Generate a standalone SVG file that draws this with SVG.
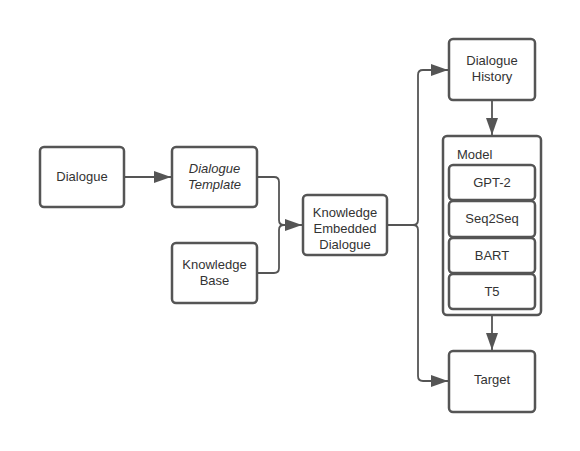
<svg xmlns="http://www.w3.org/2000/svg" width="580" height="451" viewBox="0 0 580 451">
<style>
.box{fill:#fff;stroke:#555;stroke-width:2.5}
.t{font-family:"Liberation Sans",Arial,sans-serif;font-size:13px;fill:#333;text-anchor:middle}
.c{fill:none;stroke:#555;stroke-width:1.8;stroke-linejoin:round}
</style>
<defs>
<marker id="ah" viewBox="0 0 17 12" refX="17" refY="6" markerWidth="17" markerHeight="12" markerUnits="userSpaceOnUse" orient="auto">
<path d="M0,0 L17,6 L0,12 Z" fill="#555"/>
</marker>
</defs>
<rect width="580" height="451" fill="#fff"/>
<g id="connectors">
<path class="c" d="M124,177 H171" marker-end="url(#ah)"/>
<path class="c" d="M257,177 H274 Q279,177 279,182 V220 Q279,225 284,225 H302" marker-end="url(#ah)"/>
<path class="c" d="M257,273 H274 Q279,273 279,268 V230 Q279,225 284,225 H302"/>
<path class="c" d="M387,225 H413 Q418,225 418,220 V75 Q418,70 423,70 H448" marker-end="url(#ah)"/>
<path class="c" d="M413,225 Q418,225 418,230 V376 Q418,381 423,381 H448" marker-end="url(#ah)"/>
<path class="c" d="M492,100 V135" marker-end="url(#ah)"/>
<path class="c" d="M492,315 V350" marker-end="url(#ah)"/>
</g>
<g id="dialogue">
<rect class="box" x="40" y="147" width="84" height="60" rx="4"/>
<text class="t" x="82" y="181">Dialogue</text>
</g>
<g id="dialogue-template">
<rect class="box" x="172" y="147" width="85" height="60" rx="4"/>
<text class="t" x="214.5" y="173" font-style="italic">Dialogue</text>
<text class="t" x="214.5" y="189" font-style="italic">Template</text>
</g>
<g id="knowledge-base">
<rect class="box" x="172" y="243" width="85" height="60" rx="4"/>
<text class="t" x="214.5" y="269">Knowledge</text>
<text class="t" x="214.5" y="285">Base</text>
</g>
<g id="ked">
<rect class="box" x="303" y="195" width="84" height="60" rx="4"/>
<text class="t" x="345" y="217">Knowledge</text>
<text class="t" x="345" y="233">Embedded</text>
<text class="t" x="345" y="249">Dialogue</text>
</g>
<g id="dialogue-history">
<rect class="box" x="449" y="39" width="86" height="61" rx="4"/>
<text class="t" x="492" y="65">Dialogue</text>
<text class="t" x="492" y="81">History</text>
</g>
<g id="model">
<rect class="box" x="443" y="136" width="98" height="179" rx="4"/>
<text class="t" x="457" y="159" style="text-anchor:start">Model</text>
</g>
<g id="gpt2">
<rect class="box" x="449" y="165" width="86" height="35" rx="4"/>
<text class="t" x="492" y="187">GPT-2</text>
</g>
<g id="seq2seq">
<rect class="box" x="449" y="201" width="86" height="36" rx="4"/>
<text class="t" x="492" y="223">Seq2Seq</text>
</g>
<g id="bart">
<rect class="box" x="449" y="238" width="86" height="35" rx="4"/>
<text class="t" x="492" y="260">BART</text>
</g>
<g id="t5">
<rect class="box" x="449" y="274" width="86" height="35" rx="4"/>
<text class="t" x="492" y="296">T5</text>
</g>
<g id="target">
<rect class="box" x="449" y="351" width="86" height="61" rx="4"/>
<text class="t" x="492" y="384">Target</text>
</g>
</svg>
